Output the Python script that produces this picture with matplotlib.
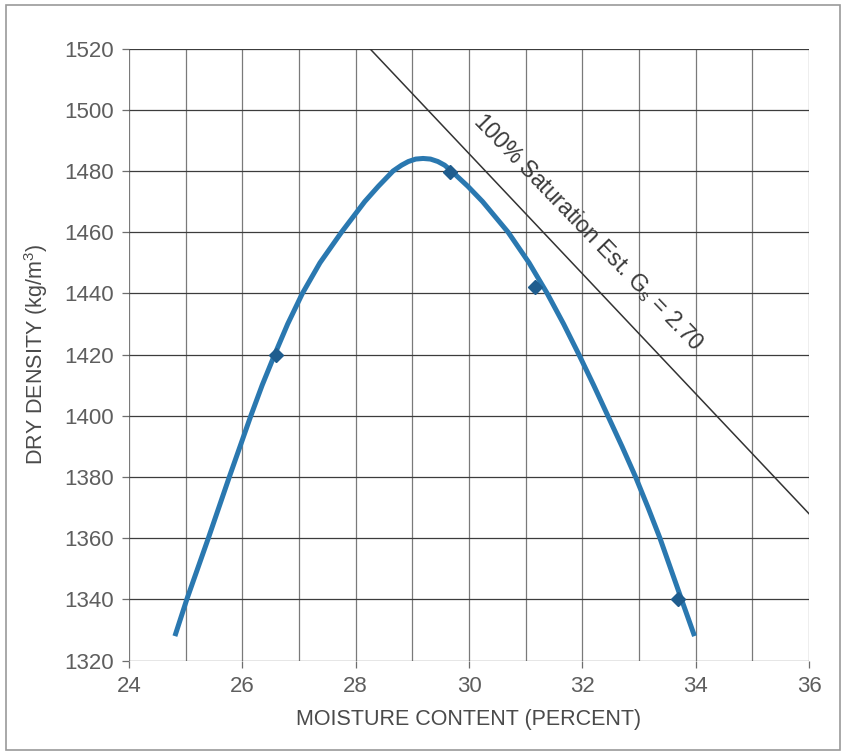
import matplotlib.pyplot as plt
from matplotlib.patches import Rectangle

plt.rcParams['font.family'] = ['Liberation Sans', 'DejaVu Sans']

# measured points (moisture %, dry density kg/m3)
test_w = [26.60, 29.66, 31.16, 33.69]
test_rho = [1420, 1479.8, 1442.2, 1340]

# fitted compaction curve
curve_w = [24.81, 25.02, 25.21, 25.40, 25.585, 25.77, 25.96, 26.15, 26.35, 26.57,
           26.80, 27.06, 27.37, 27.75, 28.16, 28.40, 28.66, 28.81, 28.93, 29.06,
           29.19, 29.32, 29.45, 29.57, 29.69, 29.98, 30.24, 30.69, 31.06, 31.38,
           31.67, 31.94, 32.20, 32.45, 32.70, 32.94, 33.16, 33.37, 33.56, 33.75,
           33.98]
curve_rho = [1328, 1340, 1350, 1360, 1370, 1380, 1390, 1400, 1410, 1420,
             1430, 1440, 1450, 1460, 1470, 1475, 1480, 1481.9, 1483.1, 1483.9,
             1484.1, 1483.9, 1483.1, 1481.9, 1480, 1475, 1470, 1460, 1450, 1440,
             1430, 1420, 1410, 1400, 1390, 1380, 1370, 1360, 1350, 1340,
             1328]

# 100% saturation line (Gs = 2.70)
sat_w = [28.25, 36.0]
sat_rho = [1520, 1368]

x_ticks = [24, 26, 28, 30, 32, 34, 36]
y_ticks = list(range(1320, 1521, 20))

fig = plt.figure(figsize=(8.44, 7.53), dpi=100)
ax = fig.add_axes([129 / 844, 1 - 660.6 / 753, 680 / 844, 612 / 753])

# grid: every unit of moisture, every 20 kg/m3
for xv in range(24, 37):
    ax.axvline(xv, color='#7a7a7a', lw=0.9, zorder=1)
for yv in y_ticks:
    ax.axhline(yv, color='#3c3c3c', lw=0.9, zorder=1)

ax.plot(sat_w, sat_rho, color='#333333', lw=1.1, zorder=2)
ax.plot(curve_w, curve_rho, color='#2a78b0', lw=3.6, solid_capstyle='butt',
        solid_joinstyle='round', zorder=3)
ax.plot(test_w, test_rho, linestyle='none', marker='D', ms=7.5,
        color='#1f5d8e', zorder=4)

ax.text(32.1, 1460, r'100% Saturation Est. G$_\mathregular{s}$ = 2.70',
        rotation=-46, rotation_mode='anchor', ha='center', va='center',
        fontsize=16.5, color='#3a3a3a', zorder=5)

ax.set_xlim(24, 36)
ax.set_ylim(1320, 1520)
ax.set_xticks(x_ticks)
ax.set_yticks(y_ticks)
for s in ax.spines.values():
    s.set_visible(False)
ax.tick_params(axis='both', length=5, width=0.9, color='#6e6e6e',
               labelsize=16, labelcolor='#5e5e5e', pad=6)

ax.set_xlabel('MOISTURE CONTENT (PERCENT)', fontsize=15.5, color='#4a4a4a', labelpad=9)
ax.set_ylabel('DRY DENSITY (kg/m$^\\mathregular{3}$)', fontsize=15.5, color='#4a4a4a', labelpad=10)

# outer frame of the chart area
fig.patches.append(Rectangle((6 / 844, 3 / 753), 834 / 844, 745 / 753,
                             transform=fig.transFigure, fill=False,
                             edgecolor='#9a9a9a', lw=1.2))

fig.savefig('out.png', dpi=100)
